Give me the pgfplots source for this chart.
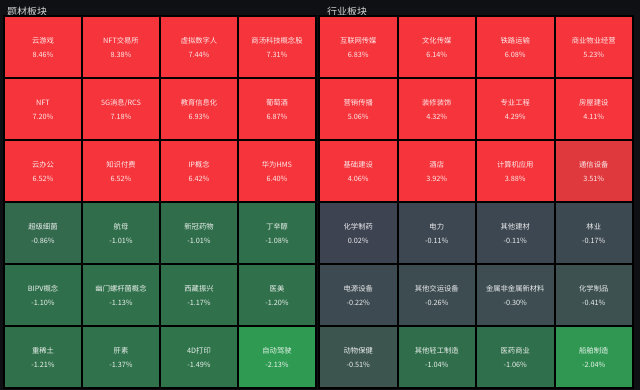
\documentclass[border=0pt]{standalone}
\usepackage{fontspec}
\setmainfont{Noto Sans CJK SC}
\usepackage{pgfplots}
\usepackage{pgfplotstable}
\pgfplotsset{compat=1.18}
\definecolor{bg}{HTML}{0F1013}
\definecolor{titlec}{HTML}{D4D4D4}
\pgfplotsset{colormap={tiles}{rgb255(0cm)=(46,156,82) rgb255(0.2cm)=(47,150,81) rgb255(0.7cm)=(47,116,75) rgb255(1.2cm)=(48,110,75) rgb255(1.34cm)=(51,105,77) rgb255(1.7cm)=(60,84,79) rgb255(1.9cm)=(61,77,81) rgb255(2.2cm)=(61,67,81) rgb255(5.2cm)=(214,58,62) rgb255(5.6cm)=(222,57,61) rgb255(5.8cm)=(226,57,61) rgb255(6.05cm)=(245,52,59) rgb255(11.2cm)=(245,52,59)}}

\pgfplotstableread{
x y v name val
0.5 0.5 -1.21 重稀土 -1.21\%
1.5 0.5 -1.37 肝素 -1.37\%
2.5 0.5 -1.49 4D打印 -1.49\%
3.5 0.5 -2.13 自动驾驶 -2.13\%
0.5 1.5 -1.10 BIPV概念 -1.10\%
1.5 1.5 -1.13 幽门螺杆菌概念 -1.13\%
2.5 1.5 -1.17 西藏振兴 -1.17\%
3.5 1.5 -1.20 医美 -1.20\%
0.5 2.5 -0.86 超级细菌 -0.86\%
1.5 2.5 -1.01 航母 -1.01\%
2.5 2.5 -1.01 新冠药物 -1.01\%
3.5 2.5 -1.08 丁辛醇 -1.08\%
0.5 3.5 6.52 云办公 6.52\%
1.5 3.5 6.52 知识付费 6.52\%
2.5 3.5 6.42 IP概念 6.42\%
3.5 3.5 6.40 华为HMS 6.40\%
0.5 4.5 7.20 NFT 7.20\%
1.5 4.5 7.18 5G消息/RCS 7.18\%
2.5 4.5 6.93 教育信息化 6.93\%
3.5 4.5 6.87 葡萄酒 6.87\%
0.5 5.5 8.46 云游戏 8.46\%
1.5 5.5 8.38 NFT交易所 8.38\%
2.5 5.5 7.44 虚拟数字人 7.44\%
3.5 5.5 7.31 商汤科技概念股 7.31\%
}\leftdata

\pgfplotstableread{
x y v name val
0.5 0.5 -0.51 动物保健 -0.51\%
1.5 0.5 -1.04 其他轻工制造 -1.04\%
2.5 0.5 -1.06 医药商业 -1.06\%
3.5 0.5 -2.04 船舶制造 -2.04\%
0.5 1.5 -0.22 电源设备 -0.22\%
1.5 1.5 -0.26 其他交运设备 -0.26\%
2.5 1.5 -0.30 金属非金属新材料 -0.30\%
3.5 1.5 -0.41 化学制品 -0.41\%
0.5 2.5 0.02 化学制药 0.02\%
1.5 2.5 -0.11 电力 -0.11\%
2.5 2.5 -0.11 其他建材 -0.11\%
3.5 2.5 -0.17 林业 -0.17\%
0.5 3.5 4.06 基础建设 4.06\%
1.5 3.5 3.92 酒店 3.92\%
2.5 3.5 3.88 计算机应用 3.88\%
3.5 3.5 3.51 通信设备 3.51\%
0.5 4.5 5.06 营销传播 5.06\%
1.5 4.5 4.32 装修装饰 4.32\%
2.5 4.5 4.29 专业工程 4.29\%
3.5 4.5 4.11 房屋建设 4.11\%
0.5 5.5 6.83 互联网传媒 6.83\%
1.5 5.5 6.14 文化传媒 6.14\%
2.5 5.5 6.08 铁路运输 6.08\%
3.5 5.5 5.23 商业物业经营 5.23\%
}\rightdata

\pgfplotsset{
  tilepanel/.style={
    anchor=south west, scale only axis, height=372pt,
    xmin=0, xmax=4, ymin=0, ymax=6, clip=false,
    axis on top, xtick={0,...,4}, ytick={0,...,6},
    xticklabels={}, yticklabels={}, major tick length=0pt,
    grid=major, major grid style={black, line width=2pt},
    axis line style={black, line width=2pt},
    colormap name=tiles, point meta min=-2.2, point meta max=9,
  },
  tiles/.style={matrix plot*, mesh/cols=4, point meta=explicit},
  lbl/.style={only marks, mark=none, point meta=explicit symbolic,
    nodes near coords,
    every node near coord/.append style={anchor=center,
      inner sep=0pt, text=white, text opacity=0.9,
      font=\fontsize{7.3}{9}\selectfont}},
}

\begin{document}
\begin{tikzpicture}
\useasboundingbox (0,0) rectangle (640pt,390pt);
\fill[bg] (0,0) rectangle (640pt,390pt);
\node[anchor=west, text=titlec, font=\fontsize{10}{12}\selectfont, inner sep=0pt] at (7pt,378.5pt) {题材板块};
\node[anchor=west, text=titlec, font=\fontsize{10}{12}\selectfont, inner sep=0pt] at (327pt,378.5pt) {行业板块};
\begin{axis}[tilepanel, at={(4pt,2pt)}, width=312pt]
\addplot[tiles] table[x=x, y=y, meta=v] {\leftdata};
\addplot[lbl, every node near coord/.append style={yshift=6pt}] table[x=x, y=y, meta=name] {\leftdata};
\addplot[lbl, every node near coord/.append style={yshift=-8pt}] table[x=x, y=y, meta=val] {\leftdata};
\end{axis}
\begin{axis}[tilepanel, at={(319pt,2pt)}, width=314pt]
\addplot[tiles] table[x=x, y=y, meta=v] {\rightdata};
\addplot[lbl, every node near coord/.append style={yshift=6pt}] table[x=x, y=y, meta=name] {\rightdata};
\addplot[lbl, every node near coord/.append style={yshift=-8pt}] table[x=x, y=y, meta=val] {\rightdata};
\end{axis}
\end{tikzpicture}
\end{document}
